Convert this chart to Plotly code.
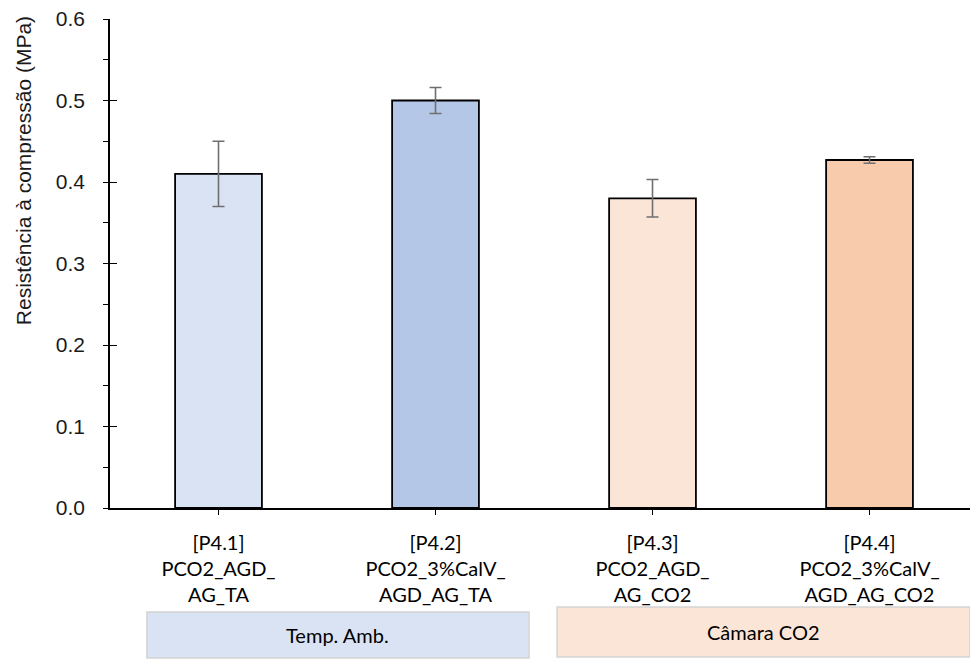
import plotly.graph_objects as go

# Compressive strength of the four mixes (MPa) with standard deviation
categories = [
    "[P4.1]<br>PCO2_AGD_<br>AG_TA",
    "[P4.2]<br>PCO2_3%CalV_<br>AGD_AG_TA",
    "[P4.3]<br>PCO2_AGD_<br>AG_CO2",
    "[P4.4]<br>PCO2_3%CalV_<br>AGD_AG_CO2",
]
strength = [0.41, 0.50, 0.38, 0.427]
strength_sd = [0.04, 0.016, 0.023, 0.004]
bar_colors = ["#DAE3F3", "#B4C7E7", "#FBE5D6", "#F8CBAD"]

# Curing-condition groups: label, first/last category index, fill colour
groups = [
    ("Temp. Amb.", 0, 1, "#DAE3F3"),
    ("Câmara CO2", 2, 3, "#FBE5D6"),
]

y_ticks = [0.0, 0.1, 0.2, 0.3, 0.4, 0.5, 0.6]

x_idx = list(range(len(categories)))

fig = go.Figure()
fig.add_trace(go.Bar(
    x=x_idx,
    y=strength,
    width=0.4,
    marker=dict(color=bar_colors, line=dict(color="black", width=1.8)),
    error_y=dict(type="data", array=strength_sd, visible=True,
                 color="#6f6f6f", thickness=1.6, width=6),
    showlegend=False,
    hoverinfo="skip",
))

# invisible trace that carries the inner half of the major y ticks
fig.add_trace(go.Scatter(x=[0], y=[0], yaxis="y2", mode="markers",
                         marker=dict(opacity=0), showlegend=False,
                         hoverinfo="skip"))

tick_font = dict(family="Liberation Sans, Arial, sans-serif", size=21, color="#1a1a1a")
cat_font = dict(family="Lato, Calibri, sans-serif", size=20, color="#000000")

fig.update_layout(
    width=970, height=659,
    margin=dict(l=110, r=0, t=19, b=151),
    paper_bgcolor="white", plot_bgcolor="white",
    xaxis=dict(
        range=[-0.5, 3.463],
        tickmode="array", tickvals=x_idx, ticktext=categories,
        ticks="outside", ticklen=5, tickwidth=1.2, tickcolor="black",
        showline=True, linecolor="black", linewidth=1.5,
        showgrid=False, zeroline=False,
        tickfont=cat_font,
        ticklabelstandoff=11,
    ),
    yaxis=dict(
        range=[0, 0.6],
        tickmode="array", tickvals=y_ticks,
        ticktext=[f"{v:.1f}" for v in y_ticks],
        ticks="outside", ticklen=5, tickwidth=1.2, tickcolor="black",
        minor=dict(ticks="outside", ticklen=5, tickwidth=1.2,
                   tickcolor="black", dtick=0.05, tick0=0),
        showline=True, linecolor="black", linewidth=1.5,
        showgrid=False, zeroline=False,
        tickfont=tick_font,
        ticklabelstandoff=14,
        automargin=False,
    ),
    yaxis2=dict(
        range=[0, 0.6], overlaying="y", side="left", anchor="x",
        tickmode="array", tickvals=y_ticks, showticklabels=False,
        ticks="inside", ticklen=7, tickwidth=1.2, tickcolor="black",
        showline=False, showgrid=False, zeroline=False,
    ),
)

# y-axis title, placed level with the upper part of the axis
fig.add_annotation(
    xref="paper", yref="paper", x=-0.101, y=0.689,
    text="Resistência à compressão (MPa)", textangle=-90, showarrow=False,
    xanchor="center", yanchor="middle",
    font=dict(family="Liberation Sans, Arial, sans-serif", size=21, color="#1a1a1a"),
)

# group boxes under the category labels
box_edges = [(-0.33, 1.431, -0.2127, -0.3067), (1.56, 3.463, -0.2025, -0.3047)]
for (label, i0, i1, fill), (x0, x1, y0, y1) in zip(groups, box_edges):
    fig.add_shape(type="rect", xref="x", yref="paper",
                  x0=x0, x1=x1, y0=y0, y1=y1,
                  fillcolor=fill, line=dict(color="#d4d4d4", width=1.5),
                  layer="above")
    fig.add_annotation(xref="x", yref="paper",
                       x=(x0 + x1) / 2, y=(y0 + y1) / 2,
                       text=label, showarrow=False,
                       font=cat_font, xanchor="center", yanchor="middle")

fig.write_html("out.html")
